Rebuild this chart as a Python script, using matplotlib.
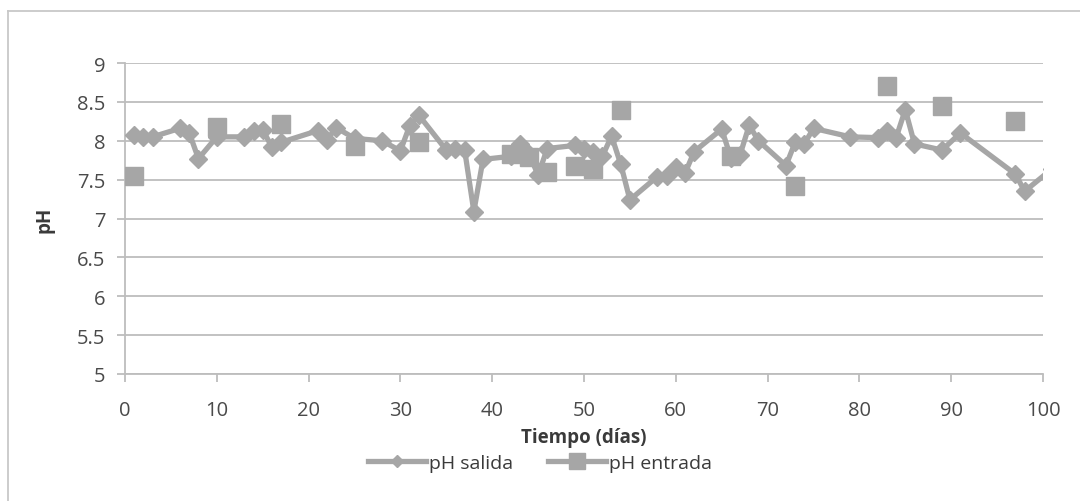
import matplotlib.pyplot as plt
from matplotlib.lines import Line2D

# pH salida (diamonds, joined)
dias_salida = [1, 2, 3, 6, 7, 8, 10, 13, 14, 15, 16, 17, 21, 22, 23, 25, 28, 30, 31, 32,
               35, 36, 37, 38, 39, 42, 43, 44, 45, 46, 49, 50, 51, 52, 53, 54, 55, 58, 59,
               60, 61, 62, 65, 66, 67, 68, 69, 72, 73, 74, 75, 79, 82, 83, 84, 85, 86, 89,
               91, 97, 98, 101]
ph_salida = [8.07, 8.05, 8.05, 8.16, 8.10, 7.77, 8.05, 8.05, 8.12, 8.14, 7.92, 7.98, 8.13,
             8.01, 8.17, 8.03, 8.00, 7.87, 8.19, 8.33, 7.88, 7.90, 7.88, 7.09, 7.76, 7.80,
             7.96, 7.83, 7.56, 7.90, 7.94, 7.90, 7.85, 7.80, 8.06, 7.70, 7.24, 7.54, 7.55,
             7.66, 7.58, 7.86, 8.15, 7.78, 7.82, 8.20, 8.00, 7.68, 7.98, 7.96, 8.16, 8.05,
             8.04, 8.13, 8.04, 8.40, 7.96, 7.88, 8.10, 7.57, 7.35, 7.64]

# pH entrada (squares, isolated points)
dias_entrada = [1, 10, 17, 25, 32, 42, 44, 46, 49, 51, 54, 66, 73, 83, 89, 97]
ph_entrada = [7.55, 8.18, 8.22, 7.93, 7.98, 7.83, 7.79, 7.60, 7.67, 7.64, 8.39, 7.80,
              7.42, 8.70, 8.45, 8.26]

xticks = list(range(0, 101, 10))
yticks = [5, 5.5, 6, 6.5, 7, 7.5, 8, 8.5, 9]
ytick_labels = ['5', '5.5', '6', '6.5', '7', '7.5', '8', '8.5', '9']

gris = '#a6a6a6'
grid_col = '#bdbdbd'
txt_col = '#4a4a4a'

plt.rcParams['font.family'] = ['Open Sans', 'DejaVu Sans']

fig = plt.figure(figsize=(10.8, 5.02), dpi=100)
ax = fig.add_axes([125/1080, 1 - 375/502, (1043 - 125)/1080, (375 - 64)/502])

ax.plot(dias_salida, ph_salida, color=gris, lw=3.8, marker='D', ms=9.5,
        mec=gris, mfc=gris, zorder=3)
ax.plot(dias_entrada, ph_entrada, ls='none', marker='s', ms=12.5,
        mec=gris, mfc=gris, zorder=4)

ax.set_xlim(0, 100)
ax.set_ylim(5, 9)
ax.set_xticks(xticks)
ax.set_yticks(yticks)
ax.set_yticklabels(ytick_labels)
ax.grid(axis='y', color=grid_col, lw=1.3)
ax.set_axisbelow(True)

for s in ['top', 'right']:
    ax.spines[s].set_visible(False)
for s in ['left', 'bottom']:
    ax.spines[s].set_color(grid_col)
    ax.spines[s].set_linewidth(1.3)

ax.tick_params(axis='both', colors=grid_col, labelcolor=txt_col, labelsize=14.5,
               length=6, width=1.3)
ax.tick_params(axis='x', pad=13)
ax.tick_params(axis='y', pad=8)

ax.set_xlabel('Tiempo (días)', fontsize=13.5, fontweight='bold', color='#3a3a3a', labelpad=5)
ax.set_ylabel('pH', fontsize=13.5, fontweight='bold', color='#3a3a3a', labelpad=16)

h1 = Line2D([], [], color=gris, lw=3.8, marker='D', ms=6, mfc=gris, mec=gris)
h2 = Line2D([], [], color=gris, lw=3.8, marker='s', ms=11, mfc=gris, mec=gris)
fig.legend([h1, h2], ['pH salida', 'pH entrada'], loc='center', ncol=2,
           bbox_to_anchor=(0.5, 1 - 464/502), frameon=False, fontsize=14,
           labelcolor='#3a3a3a', handlelength=3.0, handletextpad=0.15, columnspacing=1.8)

# chart frame (top and left edges visible)
fig.add_artist(Line2D([8/1080, 1.0], [1 - 12/502, 1 - 12/502], color='#c8c8c8', lw=1.3))
fig.add_artist(Line2D([8/1080, 8/1080], [1 - 12/502, 0.0], color='#c8c8c8', lw=1.3))

fig.savefig('out.png', dpi=100)
